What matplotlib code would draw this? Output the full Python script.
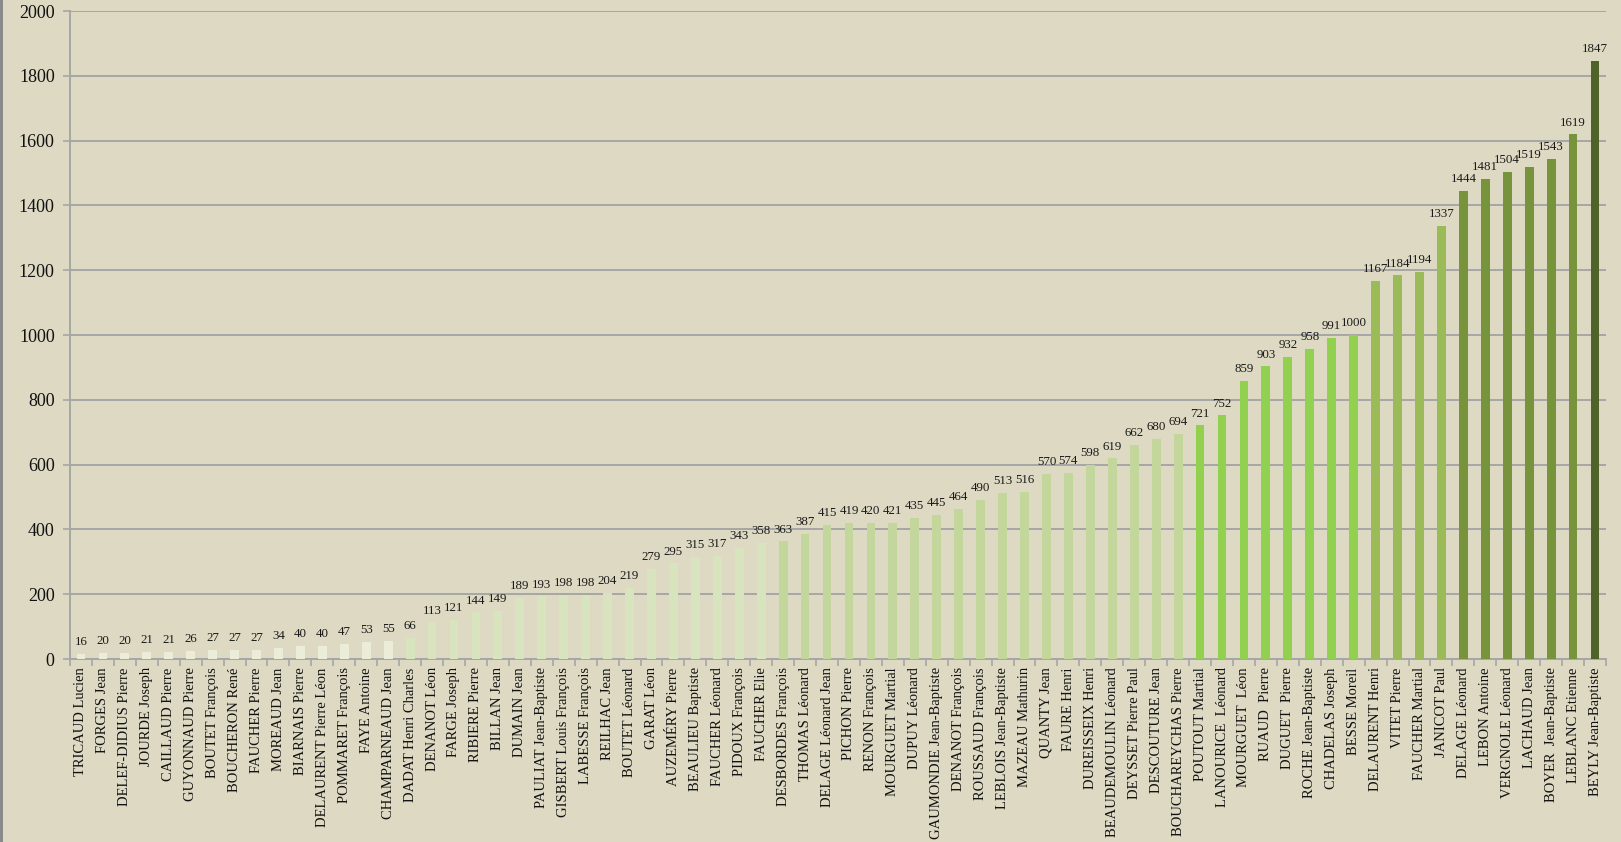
import matplotlib
matplotlib.use("Agg")
import matplotlib.pyplot as plt
from matplotlib.patches import Rectangle

names = [
    "TRICAUD Lucien", "FORGES Jean", "DELEF-DIDIUS Pierre", "JOURDE Joseph", "CAILLAUD Pierre",
    "GUYONNAUD Pierre", "BOUTET François", "BOUCHERON René", "FAUCHER Pierre", "MOREAUD Jean",
    "BIARNAIS Pierre", "DELAURENT Pierre Léon", "POMMARET François", "FAYE Antoine", "CHAMPARNEAUD Jean",
    "DADAT Henri Charles", "DENANOT Léon", "FARGE Joseph", "RIBIERE Pierre", "BILLAN Jean",
    "DUMAIN Jean", "PAULIAT Jean-Baptiste", "GISBERT Louis François", "LABESSE François", "REILHAC Jean",
    "BOUTET Léonard", "GARAT Léon", "AUZEMÉRY Pierre", "BEAULIEU Baptiste", "FAUCHER Léonard",
    "PIDOUX François", "FAUCHER Elie", "DESBORDES François", "THOMAS Léonard", "DELAGE Léonard Jean",
    "PICHON Pierre", "RENON François", "MOURGUET Martial", "DUPUY Léonard", "GAUMONDIE Jean-Baptiste",
    "DENANOT François", "ROUSSAUD François", "LEBLOIS Jean-Baptiste", "MAZEAU Mathurin", "QUANTY Jean",
    "FAURE Henri", "DUREISSEIX Henri", "BEAUDEMOULIN Léonard", "DEYSSET Pierre Paul", "DESCOUTURE Jean",
    "BOUCHAREYCHAS Pierre", "POUTOUT Martial", "LANOURICE  Léonard", "MOURGUET  Léon", "RUAUD  Pierre",
    "DUGUET  Pierre", "ROCHE Jean-Baptiste", "CHADELAS Joseph", "BESSE Moreil", "DELAURENT Henri",
    "VITET Pierre", "FAUCHER Martial", "JANICOT Paul", "DELAGE Léonard", "LEBON Antoine",
    "VERGNOLE Léonard", "LACHAUD Jean", "BOYER  Jean-Baptiste", "LEBLANC Etienne", "BEYLY Jean-Baptiste",
]

values = [
    16, 20, 20, 21, 21, 26, 27, 27, 27, 34,
    40, 40, 47, 53, 55, 66, 113, 121, 144, 149,
    189, 193, 198, 198, 204, 219, 279, 295, 315, 317,
    343, 358, 363, 387, 415, 419, 420, 421, 435, 445,
    464, 490, 513, 516, 570, 574, 598, 619, 662, 680,
    694, 721, 752, 859, 903, 932, 958, 991, 1000, 1167,
    1184, 1194, 1337, 1444, 1481, 1504, 1519, 1543, 1619, 1847,
]

group_sizes = [15, 17, 19, 8, 4, 6, 1]
group_colors = ["#ebedd8", "#d7e4bd", "#c3d69b", "#92d050", "#9bbb59", "#77933c", "#4f6228"]

bar_colors = []
for size, col in zip(group_sizes, group_colors):
    bar_colors += [col] * size

bg = "#ddd9c3"
grid_col = "#a6a6a6"
W, H = 1621, 842

fig = plt.figure(figsize=(W / 100, H / 100), dpi=100, facecolor=bg)
left, right, top, bottom = 70, 1606, 11, 659
ax = fig.add_axes([left / W, 1 - bottom / H, (right - left) / W, (bottom - top) / H])
ax.set_facecolor(bg)

x = list(range(len(values)))
ax.bar(x, values, width=0.4, color=bar_colors, zorder=3)

for xi, v in zip(x, values):
    ax.text(xi, v + 18, str(v), ha="center", va="bottom", fontsize=9.3,
            family="Liberation Serif", color="#1a1a1a", zorder=4)

ax.set_xlim(-0.5, len(values) - 0.5)
ax.set_ylim(0, 2000)
ax.set_yticks(range(0, 2001, 200))
ax.yaxis.grid(True, color=grid_col, linewidth=1.4, zorder=0)
ax.set_axisbelow(True)

ax.set_xticks(x)
ax.set_xticklabels(names, rotation=90, fontsize=10.5, family="Liberation Serif", color="#111111")
ax.tick_params(axis="x", which="major", length=0, pad=6)
ax.set_xticks([i - 0.5 for i in range(len(values) + 1)], minor=True)
ax.tick_params(axis="x", which="minor", length=5, color=grid_col, width=1.2)
ax.tick_params(axis="y", length=5, color=grid_col, width=1.2, labelsize=13, pad=6)
for lab in ax.get_yticklabels():
    lab.set_family("Liberation Serif")
    lab.set_color("#111111")

for s in ["top", "right"]:
    ax.spines[s].set_visible(False)
for s in ["left", "bottom"]:
    ax.spines[s].set_color(grid_col)
    ax.spines[s].set_linewidth(1.4)

fig.patches.append(Rectangle((0, 0), 3 / W, 1, transform=fig.transFigure,
                             facecolor="#8a8a8a", edgecolor="none"))

fig.savefig("out.png", dpi=100, facecolor=bg)
